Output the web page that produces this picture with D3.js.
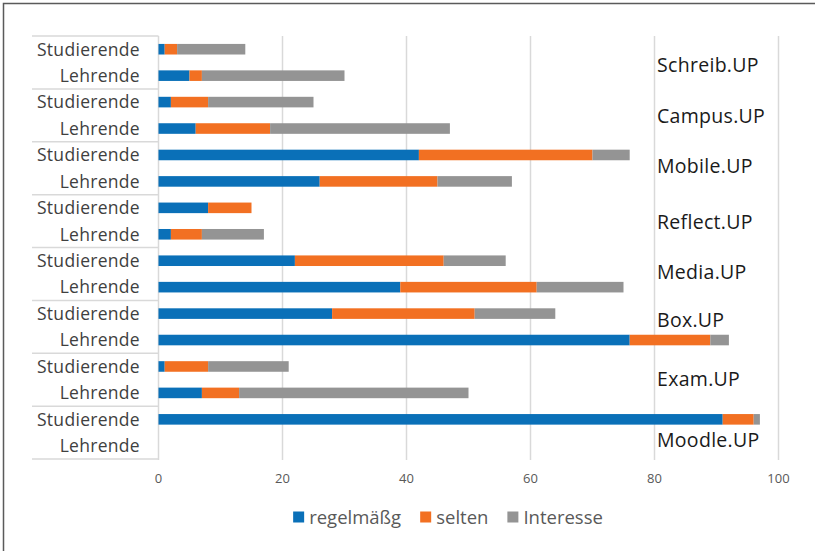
<!DOCTYPE html>
<html>
<head>
<meta charset="utf-8">
<script src="https://cdn.jsdelivr.net/npm/d3@7"></script>
<style>
  html, body { margin: 0; padding: 0; background: #fff; }
  svg { display: block; }
  text { font-family: "Open Sans", "Noto Sans", sans-serif; }
</style>
</head>
<body>
<svg id="chart" width="815" height="551"></svg>
<script>
// ---- data ----
const groups = ["Schreib.UP", "Campus.UP", "Mobile.UP", "Reflect.UP", "Media.UP", "Box.UP", "Exam.UP", "Moodle.UP"];
const audiences = ["Studierende", "Lehrende"];
const seriesNames = ["regelmäßg", "selten", "Interesse"];
// values per row, in order: group0-Studierende, group0-Lehrende, group1-Studierende, ...
const regelmaessig = [1, 5, 2, 6, 42, 26, 8, 2, 22, 39, 28, 76, 1, 7, 91, 0];
const selten       = [2, 2, 6, 12, 28, 19, 7, 5, 24, 22, 23, 13, 7, 6, 5, 0];
const interesse    = [11, 23, 17, 29, 6, 12, 0, 10, 10, 14, 13, 3, 13, 37, 1, 0];
const xTicks = [0, 20, 40, 60, 80, 100];

// ---- layout / style ----
const colors = ["#0a70b8", "#f27022", "#949494"];
const groupLabelNudge = [2.5, 0.5, -2.5, 0.5, -1.5, -6.5, -0.5, 7.5];
const plot = { left: 158.5, right: 778.5, top: 36, bottom: 459 };

const svg = d3.select("#chart");
svg.append("rect").attr("width", 815).attr("height", 551).attr("fill", "#fff");
// outer frame (continues past right/bottom edge)
svg.append("rect").attr("x", 3.5).attr("y", 3.5).attr("width", 840).attr("height", 580)
  .attr("fill", "none").attr("stroke", "#5a5a5a").attr("stroke-width", 1.5);

const rows = [];
groups.forEach((g, gi) => audiences.forEach((a, ai) => {
  const i = gi * 2 + ai;
  rows.push({ key: g + "|" + a, group: g, audience: a,
    "regelmäßg": regelmaessig[i], "selten": selten[i], "Interesse": interesse[i] });
}));

const x = d3.scaleLinear().domain([0, 100]).range([plot.left, plot.right]);
const y = d3.scaleBand().domain(rows.map(d => d.key)).range([plot.top, plot.bottom])
  .paddingInner(0.6).paddingOuter(0.3);
const yGroup = d3.scaleBand().domain(groups).range([plot.top, plot.bottom]);

// gridlines
svg.append("g").selectAll("line").data(xTicks).join("line")
  .attr("x1", d => x(d)).attr("x2", d => x(d))
  .attr("y1", plot.top).attr("y2", plot.bottom + 1)
  .attr("stroke", "#d9d9d9").attr("stroke-width", 1.5);

// category table separators
const sepY = groups.map(g => yGroup(g)).concat([plot.bottom]);
svg.append("g").selectAll("line").data(sepY).join("line")
  .attr("x1", 32).attr("x2", plot.left)
  .attr("y1", d => d).attr("y2", d => d)
  .attr("stroke", "#d9d9d9").attr("stroke-width", 1.5);

// stacked bars
const stack = d3.stack().keys(seriesNames);
const stacked = stack(rows);
svg.append("g").selectAll("g").data(stacked).join("g")
  .attr("fill", (d, i) => colors[i])
  .selectAll("rect").data(d => d.filter(s => s[1] - s[0] > 0)).join("rect")
  .attr("x", d => x(d[0]))
  .attr("width", d => x(d[1]) - x(d[0]))
  .attr("y", d => y(d.data.key))
  .attr("height", y.bandwidth());

// category labels
svg.append("g").selectAll("text").data(rows).join("text")
  .attr("x", 140).attr("y", d => y(d.key) + y.bandwidth() / 2)
  .attr("dy", "0.36em").attr("text-anchor", "end")
  .attr("font-size", 17.5).attr("letter-spacing", 0.3).attr("fill", "#404040")
  .text(d => d.audience);

// group labels
svg.append("g").selectAll("text").data(groups).join("text")
  .attr("x", 657).attr("y", (d, i) => yGroup(d) + yGroup.bandwidth() / 2 + groupLabelNudge[i])
  .attr("dy", "0.36em")
  .attr("font-size", 19.5).attr("letter-spacing", 0.3).attr("fill", "#1a1a1a")
  .text(d => d);

// x axis tick labels
svg.append("g").selectAll("text").data(xTicks).join("text")
  .attr("x", d => x(d)).attr("y", 478).attr("dy", "0.36em")
  .attr("text-anchor", "middle").attr("font-size", 13).attr("fill", "#595959")
  .text(d => d);

// legend
const legend = svg.append("g");
const items = legend.selectAll("g").data(seriesNames).join("g");
items.append("rect").attr("width", 11).attr("height", 11).attr("y", -5.5)
  .attr("fill", (d, i) => colors[i]);
items.append("text").attr("x", 16).attr("dy", "0.36em")
  .attr("font-size", 18.5).attr("fill", "#595959").text(d => d);
let cx = 0;
items.each(function () {
  d3.select(this).attr("transform", `translate(${cx},0)`);
  cx += this.getBBox().width + 19;
});
const totalW = cx - 19;
legend.attr("transform", `translate(${448 - totalW / 2},517)`);
</script>
</body>
</html>
